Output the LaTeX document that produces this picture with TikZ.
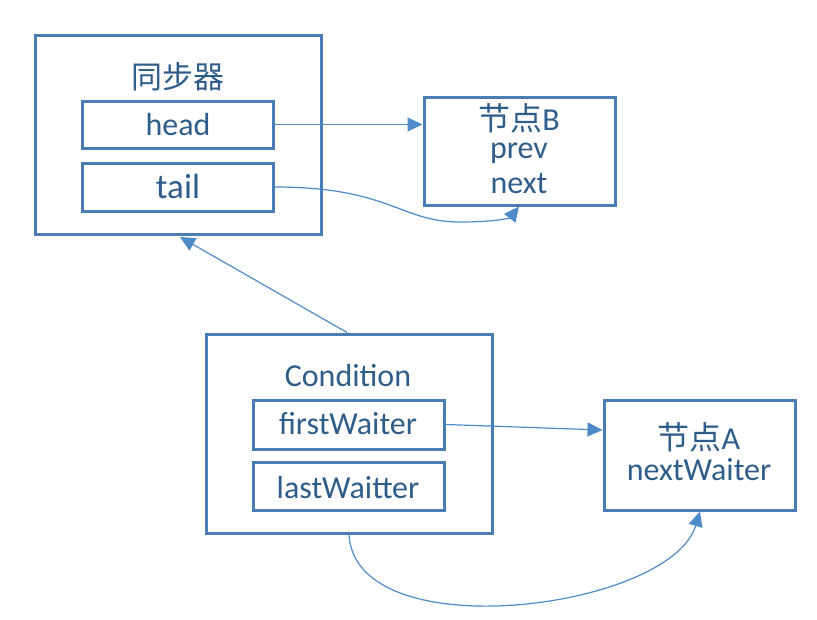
\documentclass[tikz,border=0pt]{standalone}
\usepackage{fontspec}
\setmainfont{Carlito}
\newfontfamily\cjk{Noto Sans CJK SC}
\usetikzlibrary{arrows.meta}
\definecolor{boxc}{HTML}{4A7DB3}
\definecolor{linec}{HTML}{4F8AC9}
\definecolor{txtc}{HTML}{2F5D8A}
\begin{document}
\begin{tikzpicture}[x=1pt,y=-1pt,
  box/.style={draw=boxc,line width=3pt,rectangle,inner sep=0pt},
  lbl/.style={text=txtc,inner sep=0pt,font=\fontsize{32}{36}\selectfont},
  conn/.style={draw=linec,line width=1.2pt,-{Triangle[length=15pt,width=14pt]}}]
\useasboundingbox (0,0) rectangle (817,619);
% synchroniser
\node[box,minimum width=286pt,minimum height=199pt] (sync) at (178,134.5) {};
\node[lbl,font=\fontsize{31}{36}\selectfont] (synct) at (178,77) {\cjk 同步器};
\node[box,minimum width=191pt,minimum height=47pt] (head) at (177.5,124.5) {};
\node[lbl] (headt) at (178,125) {head};
\node[box,minimum width=191pt,minimum height=48pt] (tail) at (177.5,187) {};
\node[lbl,font=\fontsize{35}{38}\selectfont] (tailt) at (178,186) {tail};
% node B
\node[box,minimum width=191pt,minimum height=108pt] (B) at (519.5,151) {};
\node[lbl] (Bt1) at (519,118) {{\cjk 节点}B};
\node[lbl] (Bt2) at (519,153) {prev};
\node[lbl] (Bt3) at (519,183) {next};
% condition
\node[box,minimum width=286pt,minimum height=199pt] (cond) at (349,433.5) {};
\node[lbl] (condt) at (348,376) {Condition};
\node[box,minimum width=191pt,minimum height=49pt] (first) at (348.5,424.5) {};
\node[lbl] (firstt) at (348,424) {firstWaiter};
\node[box,minimum width=191pt,minimum height=48pt] (last) at (348.5,486) {};
\node[lbl] (lastt) at (348,487) {lastWaitter};
% node A
\node[box,minimum width=191pt,minimum height=110pt] (A) at (699.5,455) {};
\node[lbl] (At1) at (699,437) {{\cjk 节点}A};
\node[lbl] (At2) at (699,470) {nextWaiter};
% connectors
\coordinate (hs) at (head.east);
\coordinate (be) at (B.west |- hs);
\draw[conn] (head.east) -- (be);
\draw[conn] (tail.east) .. controls (390,187) and (400,222) .. (460,222) .. controls (495,222) and (510,218) .. ([xshift=-0.5pt]B.south);
\draw[conn] ([xshift=-2pt]cond.north) -- ([xshift=2pt,yshift=-1.5pt]sync.south);
\draw[conn] (first.east) -- ([yshift=25pt]A.west);
\draw[conn] (cond.south) .. controls (355,650) and (670,610) .. ([xshift=0.5pt]A.south);
\end{tikzpicture}
\end{document}
